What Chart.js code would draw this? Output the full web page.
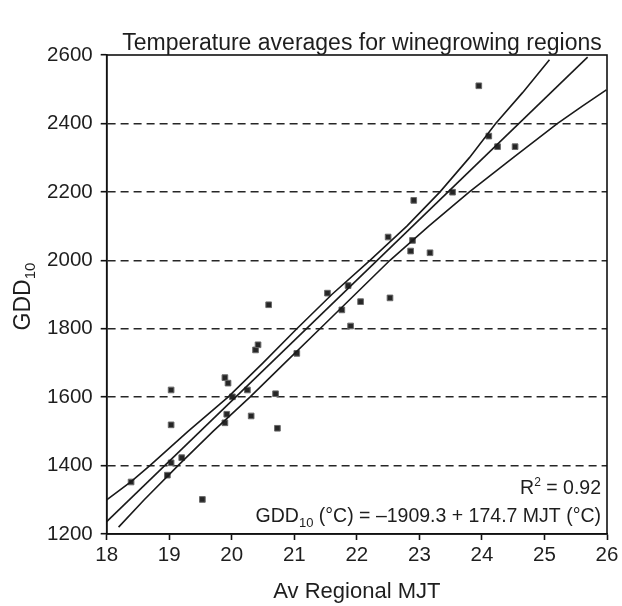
<!DOCTYPE html>
<html>
<head>
<meta charset="utf-8">
<script src="https://cdn.jsdelivr.net/npm/chart.js@4.4.1/dist/chart.umd.min.js"></script>
<style>
  html, body { margin: 0; padding: 0; background: #fff; }
  #wrap { width: 622px; height: 606px; }
</style>
</head>
<body>
<div id="wrap"><canvas id="gddChart" width="622" height="606"></canvas></div>
<script>
// Regional averages: MJT (x) and GDD10 (y)
const mjt = [18.39, 19.03, 19.03, 19.03, 18.97, 19.20, 19.53, 19.89, 19.94, 20.01,
             19.92, 19.89, 20.25, 20.31, 20.38, 20.42, 20.59, 20.70, 20.73, 21.04,
             21.53, 21.86, 21.76, 22.06, 21.90, 23.95, 24.11, 24.25, 24.53, 23.53,
             22.91, 22.50, 22.89, 22.86, 23.17, 22.53];
const gdd = [1352, 1621, 1519, 1408, 1372, 1423, 1301, 1657, 1641, 1601,
             1550, 1525, 1621, 1545, 1738, 1753, 1870, 1610, 1509, 1728,
             1904, 1926, 1855, 1879, 1808, 2510, 2363, 2332, 2332, 2199,
             2175, 2068, 2058, 2027, 2022, 1890];

// Fitted line end points
const fitX = [18.0, 25.69];
const fitY = [1236, 2594];

// Upper and lower band lines
const upperX = [18.0, 18.39, 18.69, 19.3, 19.94, 20.5, 21.04, 21.6, 22.21, 22.8, 23.33, 23.8, 24.22, 24.65, 25.08];
const upperY = [1300, 1353, 1400, 1500, 1600, 1700, 1800, 1900, 2000, 2100, 2200, 2300, 2400, 2490, 2586];
const lowerX = [18.19, 18.6, 19.14, 19.7, 20.29, 20.85, 21.41, 21.97, 22.53, 23.15, 23.8, 24.5, 25.21, 25.6, 25.99];
const lowerY = [1220, 1300, 1400, 1500, 1600, 1700, 1800, 1900, 2000, 2100, 2200, 2300, 2400, 2450, 2498];

const xTicks = [18, 19, 20, 21, 22, 23, 24, 25, 26];
const yTicks = [1200, 1400, 1600, 1800, 2000, 2200, 2400, 2600];

const FONT = '"Liberation Sans", Arial, sans-serif';
const toPts = (xs, ys) => xs.map((x, i) => ({ x: x, y: ys[i] }));

// draw a run of [text, size, dy] pieces ending at x (right aligned)
function drawRun(ctx, parts, rightX, baseY) {
    let total = 0;
    parts.forEach(p => { ctx.font = p[1] + 'px ' + FONT; total += ctx.measureText(p[0]).width; });
    let px = rightX - total;
    parts.forEach(p => {
        ctx.font = p[1] + 'px ' + FONT;
        ctx.fillText(p[0], px, baseY + p[2]);
        px += ctx.measureText(p[0]).width;
    });
}

// Text drawn around the plot (titles with subscripts, fit statistics)
const labelsPlugin = {
    id: 'labels',
    afterDraw(chart) {
        const { ctx, chartArea: a } = chart;
        ctx.save();
        ctx.fillStyle = '#1e1e1e';

        // frame
        ctx.strokeStyle = '#111';
        ctx.lineWidth = 1.6;
        ctx.strokeRect(a.left, a.top, a.right - a.left, a.bottom - a.top);

        // chart title
        ctx.font = '23px ' + FONT;
        ctx.textAlign = 'center';
        ctx.textBaseline = 'alphabetic';
        ctx.fillText('Temperature averages for winegrowing regions', 362, 50);

        // x axis title
        ctx.font = '22px ' + FONT;
        ctx.fillText('Av Regional MJT', (a.left + a.right) / 2, 598);

        // y axis title GDD10
        ctx.save();
        ctx.translate(30, (a.top + a.bottom) / 2 + 2);
        ctx.rotate(-Math.PI / 2);
        ctx.textAlign = 'left';
        const half = (() => {
            ctx.font = '23px ' + FONT;
            const w1 = ctx.measureText('GDD').width;
            ctx.font = '15px ' + FONT;
            return (w1 + ctx.measureText('10').width) / 2;
        })();
        drawRun(ctx, [['GDD', 23, 0], ['10', 15, 5]], half, 0);
        ctx.restore();

        // R squared and equation, right aligned
        ctx.textAlign = 'left';
        const rx = a.right - 6;
        drawRun(ctx, [['GDD', 19.5, 0], ['10', 13, 5],
            [' (°C) = \u20131909.3 + 174.7 MJT (°C)', 19.5, 0]], rx, 522);
        drawRun(ctx, [['R', 19.5, 0], ['2', 12, -8], [' = 0.92', 19.5, 0]], rx, 494);
        ctx.restore();
    }
};

const lineStyle = {
    type: 'line',
    borderColor: '#1a1a1a',
    borderWidth: 1.6,
    pointRadius: 0,
    fill: false,
    tension: 0
};

new Chart(document.getElementById('gddChart'), {
    type: 'scatter',
    data: {
        datasets: [
            Object.assign({ label: 'Upper', data: toPts(upperX, upperY) }, lineStyle),
            Object.assign({ label: 'Fit', data: toPts(fitX, fitY) }, lineStyle),
            Object.assign({ label: 'Lower', data: toPts(lowerX, lowerY) }, lineStyle),
            {
                label: 'Regions',
                data: toPts(mjt, gdd),
                pointStyle: 'rect',
                pointRadius: 4,
                backgroundColor: '#262626',
                borderColor: '#6a6a6a',
                borderWidth: 1
            }
        ]
    },
    options: {
        responsive: false,
        animation: false,
        devicePixelRatio: 1,
        layout: { padding: { top: 55, right: 15, left: 0, bottom: 0 } },
        plugins: {
            legend: { display: false },
            tooltip: { enabled: false }
        },
        scales: {
            x: {
                type: 'linear',
                min: 18,
                max: 26,
                afterBuildTicks: s => { s.ticks = xTicks.map(v => ({ value: v })); },
                afterFit: s => { s.height = 72; },
                grid: {
                    drawOnChartArea: false,
                    drawTicks: true,
                    tickLength: 6,
                    tickColor: '#111',
                    tickWidth: 1.6
                },
                border: { display: true, color: '#111', width: 1.6 },
                ticks: {
                    color: '#1e1e1e',
                    font: { family: FONT, size: 20.5 },
                    padding: 3,
                    maxRotation: 0,
                    callback: v => String(v)
                }
            },
            y: {
                type: 'linear',
                min: 1200,
                max: 2600,
                afterBuildTicks: s => { s.ticks = yTicks.map(v => ({ value: v })); },
                afterFit: s => { s.width = 106.7; },
                grid: {
                    color: c => (c.tick && (c.tick.value === 1200 || c.tick.value === 2600)) ? 'rgba(0,0,0,0)' : '#262626',
                    lineWidth: 1.4,
                    drawTicks: true,
                    tickLength: 6,
                    tickColor: '#111',
                    tickWidth: 1.6
                },
                border: { display: true, color: '#111', width: 1.6, dash: [8, 5] },
                ticks: {
                    color: '#1e1e1e',
                    font: { family: FONT, size: 20.5 },
                    padding: 8,
                    callback: v => String(v)
                }
            }
        }
    },
    plugins: [labelsPlugin]
});
</script>
</body>
</html>
